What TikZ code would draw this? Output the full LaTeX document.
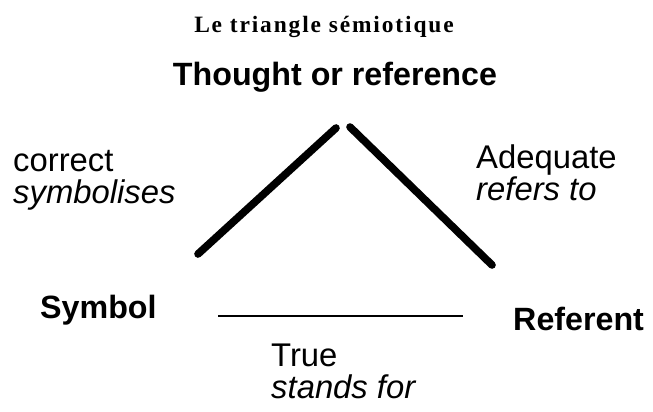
\documentclass[tikz,border=0pt]{standalone}
\usepackage{fontspec}
\setmainfont{Liberation Sans}
\newfontfamily\titlefont[LetterSpace=8]{Liberation Serif}
\usetikzlibrary{positioning}
\definecolor{Paper}{HTML}{FFFFFF}
\definecolor{Ink}{HTML}{000000}
\tikzset{corner/.style={inner sep=0pt,text=Ink,font=\bfseries\fontsize{27.5}{30}\selectfont},relation/.style={inner sep=0pt,align=left,text=Ink,font=\fontsize{28}{27}\selectfont},side/.style={draw=Ink,line width=6.5pt,line cap=round},base/.style={draw=Ink,line width=2pt}}

\begin{document}
\begin{tikzpicture}[x=0.03cm,y=-0.03cm]
\fill[Paper] (0,0) rectangle (653,411);
\useasboundingbox (0,0) rectangle (653,411);
\node[inner sep=0pt,anchor=base,text=Ink,font=\titlefont\bfseries\fontsize{20}{22}\selectfont] (title) at (324,32) {Le triangle sémiotique};
\node[corner,anchor=base] (thought) at (335,85) {Thought or reference};
\node[corner,anchor=base west] (symbol) at (40,318) {Symbol};
\node[corner,anchor=base west] (referent) at (513,330) {Referent};
\node[relation,anchor=base west] (correct) at (13,203) {correct\\\textit{symbolises}};
\node[relation,anchor=base west] (adequate) at (476,200) {Adequate\\\textit{refers to}};
\node[relation,anchor=base west] (true) at (271,398) {True\\\textit{stands for}};
\coordinate (leftfoot) at (198,254);
\coordinate (leftapex) at (336,128);
\coordinate (rightapex) at (350,127);
\coordinate (rightfoot) at (492,265);
\coordinate (symbolend) at (218,316);
\coordinate (referentend) at (463,316);
\draw[side] (leftfoot) -- (leftapex);
\draw[side] (rightapex) -- (rightfoot);
\draw[base] (symbolend) -- (referentend);
\end{tikzpicture}
\end{document}
